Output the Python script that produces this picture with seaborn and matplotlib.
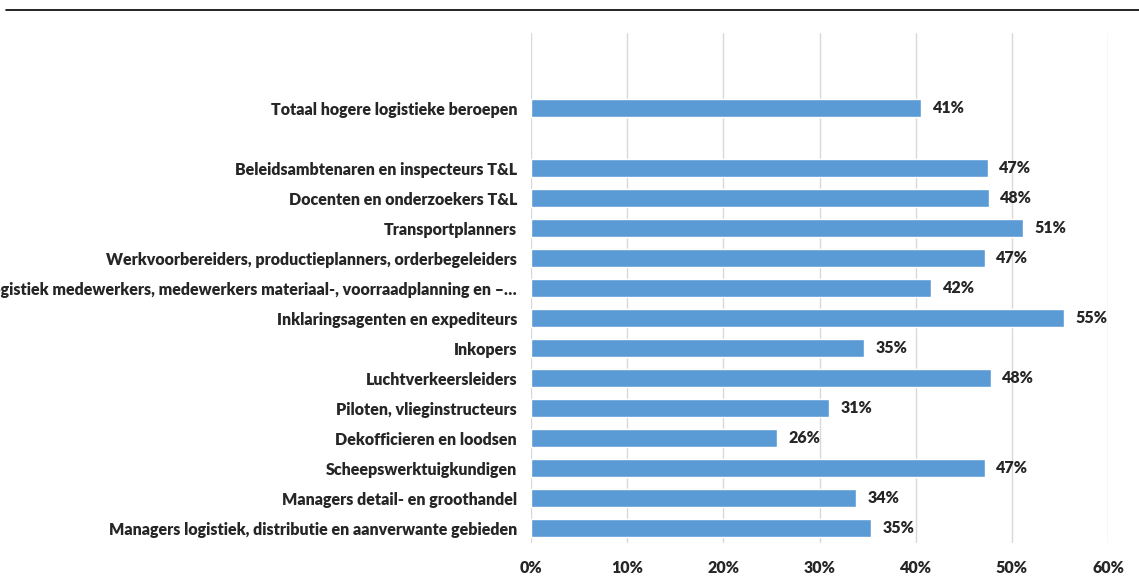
import pandas as pd
import seaborn as sns
import matplotlib.pyplot as plt
from matplotlib.lines import Line2D

# -----------------------------
# Data
# -----------------------------

categories = [
    "Totaal hogere logistieke beroepen",
    "Beleidsambtenaren en inspecteurs T&L",
    "Docenten en onderzoekers T&L",
    "Transportplanners",
    "Werkvoorbereiders, productieplanners, orderbegeleiders",
    "Logistiek medewerkers, medewerkers materiaal-, voorraadplanning en \u2013\u2026",
    "Inklaringsagenten en expediteurs",
    "Inkopers",
    "Luchtverkeersleiders",
    "Piloten, vlieginstructeurs",
    "Dekofficieren en loodsen",
    "Scheepswerktuigkundigen",
    "Managers detail- en groothandel",
    "Managers logistiek, distributie en aanverwante gebieden",
]
values = [40.6, 47.5, 47.6, 51.2, 47.2, 41.6, 55.4, 34.6, 47.8, 31.0, 25.6, 47.2, 33.8, 35.4]
labels = ["41%", "47%", "48%", "51%", "47%", "42%", "55%", "35%", "48%", "31%", "26%", "47%", "34%", "35%"]

df = pd.DataFrame({"beroep": categories, "waarde": values})

# empty slot between the total and the rest
order = [categories[0], " "] + categories[1:]

# -----------------------------
# Plot
# -----------------------------

sns.set_theme(style="white")
plt.rcParams["font.family"] = ["Lato", "DejaVu Sans"]

FS = 11.5
WEIGHT = "heavy"

fig = plt.figure(figsize=(11.39, 5.82), dpi=100)
ax = fig.add_axes([0.4662, 0.067, 0.5066, 0.8763])

sns.barplot(data=df, y="beroep", x="waarde", order=order, color="#5B9BD5",
            width=0.58, orient="h", ax=ax, saturation=1)

ax.set_xlim(0, 60)
ax.set_ylim(14.5, -2.5)
ax.set_xticks(range(0, 61, 10))
ax.set_xticklabels([f"{t}%" for t in range(0, 61, 10)], fontsize=FS, fontweight=WEIGHT)
ax.tick_params(axis="y", labelsize=FS, length=0, pad=10)
ax.tick_params(axis="x", length=0, pad=12)
for lab in ax.get_yticklabels():
    lab.set_fontweight(WEIGHT)
ax.set_xlabel("")
ax.set_ylabel("")
ax.grid(axis="x", color="#d9d9d9", linewidth=1)
ax.set_axisbelow(True)
for s in ax.spines.values():
    s.set_visible(False)

# value labels
bar_rows = [0] + list(range(2, len(order)))
for row, v, t in zip(bar_rows, values, labels):
    ax.text(v + 1.2, row, t, va="center", ha="left", fontsize=FS, fontweight=WEIGHT)

# rule at the top of the figure
fig.add_artist(Line2D([6 / 1139, 1], [1 - 10 / 582, 1 - 10 / 582], color="black", linewidth=1.2))

fig.savefig("out.png", dpi=100)
